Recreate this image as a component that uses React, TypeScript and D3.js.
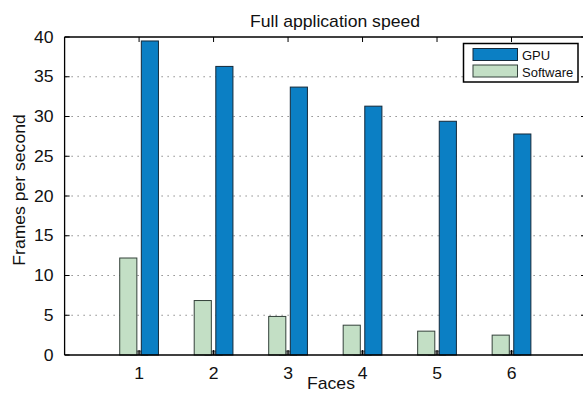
import * as d3 from 'd3';

const faces = [1, 2, 3, 4, 5, 6];
const gpuFps = [39.5, 36.3, 33.7, 31.3, 29.4, 27.8];
const softwareFps = [12.2, 6.85, 4.85, 3.75, 3.0, 2.5];
const otherFps = [0.5, 0.5, 0.5, 0.5, 0.5, 0.5];
const yTicks = [0, 5, 10, 15, 20, 25, 30, 35, 40];

const WIDTH = 583;
const HEIGHT = 393;
const MARGIN = { top: 37, right: -3, bottom: 38, left: 64.6 };
const FONT = '"Liberation Sans", Arial, Helvetica, sans-serif';

// text in the reference is a bit wider than Arial, so stretch it horizontally
const SText = ({ x, y, rotate = 0, anchor = 'middle', size = 16, children }) => (
  <text
    transform={`translate(${x},${y}) rotate(${rotate}) scale(1.1,1)`}
    textAnchor={anchor}
    fontSize={size}
    fontFamily={FONT}
    fill="#111"
  >
    {children}
  </text>
);

const App = () => {
  const x0 = MARGIN.left;
  const x1 = WIDTH - MARGIN.right;
  const y0 = HEIGHT - MARGIN.bottom;
  const y1 = MARGIN.top;

  const xScale = d3.scaleLinear().domain([0, 7]).range([x0, x1]);
  const yScale = d3.scaleLinear().domain([0, 40]).range([y0, y1]);

  // three bars per group, overlapping like the original grouped bar plot
  const series = [
    { key: 'other', values: otherFps, fill: '#8a8a8a', stroke: '#444' },
    { key: 'software', values: softwareFps, fill: '#c3dfc5', stroke: '#33413a' },
    { key: 'gpu', values: gpuFps, fill: '#0b7fc4', stroke: '#14293a' },
  ];
  const offset = d3
    .scalePoint()
    .domain(['software', 'other', 'gpu'])
    .range([-0.145, 0.145]);
  const barW = xScale(0.23) - xScale(0);

  const bars = series.map(s =>
    s.values.map((v, i) => {
      const cx = xScale(faces[i] + offset(s.key));
      return (
        <rect
          key={`${s.key}-${i}`}
          x={cx - barW / 2}
          y={yScale(v)}
          width={barW}
          height={y0 - yScale(v)}
          fill={s.fill}
          stroke={s.stroke}
          strokeWidth={1}
        />
      );
    })
  );

  const grid = yTicks
    .filter(t => t > 0 && t < 40)
    .map(t => (
      <line
        key={`grid-${t}`}
        x1={x0}
        x2={x1}
        y1={yScale(t)}
        y2={yScale(t)}
        stroke="#555"
        strokeWidth={1}
        strokeDasharray="1,5"
        strokeDashoffset={-7}
      />
    ));

  const yTickMarks = yTicks.map(t => (
    <g key={`yt-${t}`}>
      <line x1={x0} x2={x0 + 5} y1={yScale(t)} y2={yScale(t)} stroke="#000" />
      <line x1={x1} x2={x1 - 5} y1={yScale(t)} y2={yScale(t)} stroke="#000" />
      <SText x={53.5} y={yScale(t) + 5.6} anchor="end">
        {t}
      </SText>
    </g>
  ));

  const xTickMarks = faces.map(f => (
    <g key={`xt-${f}`}>
      <line x1={xScale(f)} x2={xScale(f)} y1={y1} y2={y1 + 5} stroke="#000" />
      <line x1={xScale(f)} x2={xScale(f)} y1={y0} y2={y0 - 5} stroke="#000" />
      <SText x={xScale(f)} y={378.5}>
        {f}
      </SText>
    </g>
  ));

  const legendItems = [
    { label: 'GPU', fill: '#0b7fc4', stroke: '#14293a' },
    { label: 'Software', fill: '#c3dfc5', stroke: '#33413a' },
  ];

  return (
    <svg
      width={WIDTH}
      height={HEIGHT}
      style={{ position: 'absolute', left: 0, top: 0, background: '#fff' }}
    >
      <rect width={WIDTH} height={HEIGHT} fill="#fff" />
      {grid}
      {bars}
      <line x1={x0} x2={x1} y1={y0} y2={y0} stroke="#000" strokeWidth={1.3} />
      <line x1={x0} x2={x1} y1={y1} y2={y1} stroke="#000" strokeWidth={1.3} />
      <line x1={x0} x2={x0} y1={y1} y2={y0} stroke="#000" strokeWidth={1.3} />
      <line x1={x1} x2={x1} y1={y1} y2={y0} stroke="#000" strokeWidth={1.3} />
      {yTickMarks}
      {xTickMarks}

      <SText x={335} y={26.5}>
        Full application speed
      </SText>
      <SText x={331} y={389}>
        Faces
      </SText>
      <SText x={25} y={190} rotate={-90}>
        Frames per second
      </SText>

      <g transform="translate(463.5,43.5)">
        <rect width={114.5} height={38.5} fill="#fff" stroke="#000" strokeWidth={1.5} />
        {legendItems.map((d, i) => (
          <g key={d.label} transform={`translate(0,${5 + i * 16.5})`}>
            <rect x={9.5} width={44.5} height={12} fill={d.fill} stroke={d.stroke} />
            <text x={58.5} y={11.5} fontSize={13} fontFamily={FONT} fill="#111">
              {d.label}
            </text>
          </g>
        ))}
      </g>
    </svg>
  );
};

export default App;
